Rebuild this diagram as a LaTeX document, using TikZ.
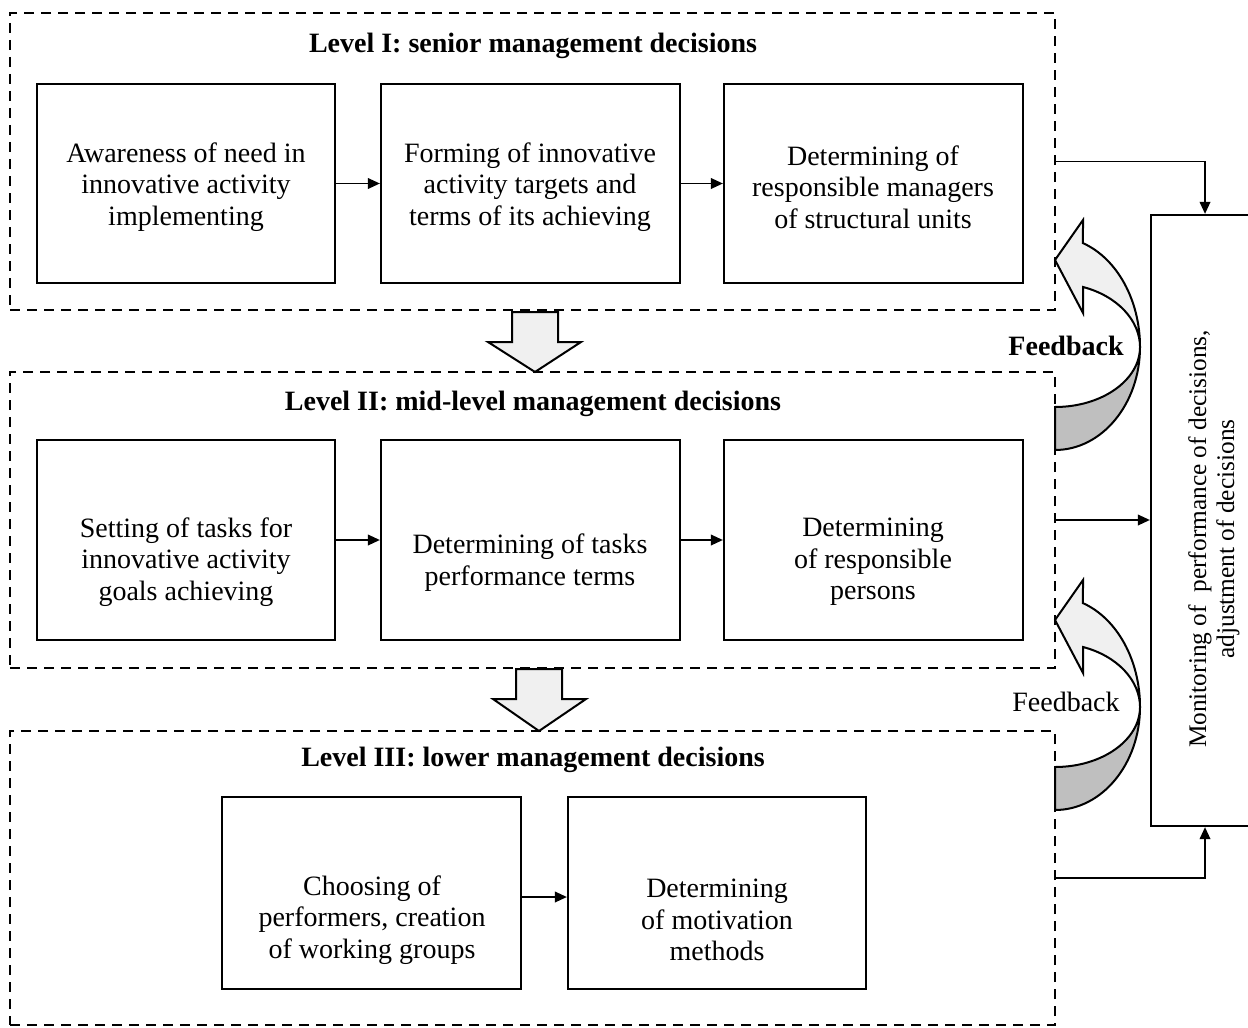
\documentclass[tikz,border=0pt]{standalone}
\usepackage{fontspec}
\setmainfont{Liberation Serif}
\usetikzlibrary{arrows.meta,fit}
\begin{document}
\begin{tikzpicture}[x=0.75pt,y=-0.75pt,
  every node/.style={font=\fontsize{21}{23.5}\selectfont},
  dbox/.style={draw,line width=1.7pt,dash pattern=on 7.5pt off 5.25pt,inner sep=0pt},
  sbox/.style={draw,line width=1.7pt,inner sep=0pt},
  txt/.style={align=center,inner sep=0pt},
  ttl/.style={font=\fontsize{21}{23.5}\selectfont\bfseries,inner sep=0pt},
  conn/.style={line width=1.2pt,-{Triangle[length=9pt,width=8pt]}},
  lightf/.style={fill=black!6,draw,line width=1.5pt,line join=miter},
  darkf/.style={fill=black!25,draw,line width=1.5pt}]
\useasboundingbox (0,0) rectangle (1248,1027);
% level frames
\node[dbox,fit={(10,13)(1055,310)}] (L1) {};
\node[dbox,fit={(10,372)(1055,668)}] (L2) {};
\node[dbox,fit={(10,731)(1055,1025)}] (L3) {};
\node[ttl] (t1) at (533,46) {Level I: senior management decisions};
\node[ttl] (t2) at (533,404) {Level II: mid-level management decisions};
\node[ttl] (t3) at (533,760) {Level III: lower management decisions};
% level I boxes
\node[sbox,fit={(37,84)(335,283)}] (a1) {};
\node[sbox,fit={(381,84)(680,283)}] (a2) {};
\node[sbox,fit={(724,84)(1023,283)}] (a3) {};
\node[txt] (ta1) at (186,187) {Awareness of need in\\innovative activity\\implementing};
\node[txt] (ta2) at (530,187) {Forming of innovative\\activity targets and\\terms of its achieving};
\node[txt] (ta3) at (873,187) {Determining of\\responsible managers\\of structural units};
% level II boxes
\node[sbox,fit={(37,440)(335,640)}] (b1) {};
\node[sbox,fit={(381,440)(680,640)}] (b2) {};
\node[sbox,fit={(724,440)(1023,640)}] (b3) {};
\node[txt] (tb1) at (186,562) {Setting of tasks for\\innovative activity\\goals achieving};
\node[txt] (tb2) at (530,562.5) {Determining of tasks\\performance terms};
\node[txt] (tb3) at (873,562) {Determining\\of responsible\\persons};
% level III boxes
\node[sbox,fit={(222,797)(521,989)}] (c1) {};
\node[sbox,fit={(568,797)(866,989)}] (c2) {};
\node[txt] (tc1) at (372,920) {Choosing of\\performers, creation\\of working groups};
\node[txt] (tc2) at (717,920) {Determining\\of motivation\\methods};
% monitoring box
\node[sbox,fit={(1151,215)(1259,826)}] (mon) {};
\node[txt,rotate=90,font=\fontsize{19}{21}\selectfont] (tmon) at (1214,539) {Monitoring of\ \ performance of decisions,\\adjustment of decisions};
% arrows between boxes
\draw[conn] (a1) -- (a2);
\draw[conn] (a2) -- (a3);
\draw[conn] (b1) -- (b2);
\draw[conn] (b2) -- (b3);
\draw[conn] (c1.east |- 0,897) -- (c2.west |- 0,897);
% connectors to monitoring
\draw[conn] (L1.east) -| (mon.north);
\draw[conn] (L2.east) -- (mon.west |- L2.east);
\draw[conn] (L3.east) -| (mon.south);
% block arrows
\draw[lightf] (512,312) -- (558,312) -- (558,342) -- (581,342) -- (535,372) -- (488,342) -- (512,342) -- cycle;
\draw[lightf] (516,669) -- (562,669) -- (562,699) -- (586,699) -- (539,731) -- (493,699) -- (516,699) -- cycle;
% feedback ribbons
\foreach \dy in {0,360}{
\begin{scope}[shift={(0,\dy)}]
\draw[darkf] (1055,450) arc[start angle=90,end angle=0,x radius=85,y radius=103]
  arc[start angle=0,end angle=90,x radius=85,y radius=60] -- cycle;
\draw[lightf] (1140,347) arc[start angle=0,end angle=-70.8,x radius=85,y radius=110]
  -- (1083,220) -- (1055,260) -- (1083,313) -- (1083,287)
  arc[start angle=-70.8,end angle=0,x radius=85,y radius=64] -- cycle;
\end{scope}}
\node[ttl] (fb1) at (1066,346) {Feedback};
\node[txt] (fb2) at (1066,702) {Feedback};
\end{tikzpicture}
\end{document}
